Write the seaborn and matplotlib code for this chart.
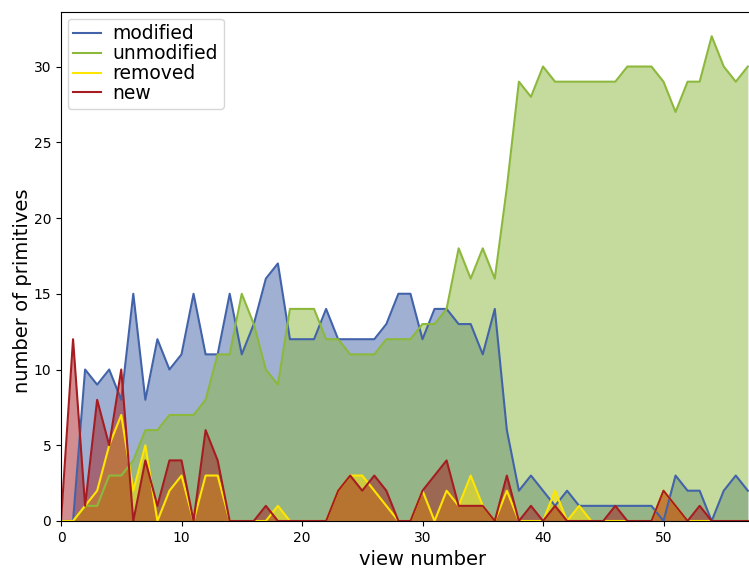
import numpy as np
import pandas as pd
import matplotlib
matplotlib.use("Agg")
import matplotlib.pyplot as plt
import seaborn as sns

views = list(range(58))
modified = [0, 0, 10, 9, 10, 8, 15, 8, 12, 10,
            11, 15, 11, 11, 15, 11, 13, 16, 17, 12,
            12, 12, 14, 12, 12, 12, 12, 13, 15, 15,
            12, 14, 14, 13, 13, 11, 14, 6, 2, 3,
            2, 1, 2, 1, 1, 1, 1, 1, 1, 1,
            0, 3, 2, 2, 0, 2, 3, 2]
unmodified = [0, 0, 1, 1, 3, 3, 4, 6, 6, 7,
              7, 7, 8, 11, 11, 15, 13, 10, 9, 14,
              14, 14, 12, 12, 11, 11, 11, 12, 12, 12,
              13, 13, 14, 18, 16, 18, 16, 22, 29, 28,
              30, 29, 29, 29, 29, 29, 29, 30, 30, 30,
              29, 27, 29, 29, 32, 30, 29, 30]
removed = [0, 0, 1, 2, 5, 7, 2, 5, 0, 2,
           3, 0, 3, 3, 0, 0, 0, 0, 1, 0,
           0, 0, 0, 2, 3, 3, 2, 1, 0, 0,
           2, 0, 2, 1, 3, 1, 0, 2, 0, 0,
           0, 2, 0, 1, 0, 0, 0, 0, 0, 0,
           2, 1, 0, 0, 0, 0, 0, 0]
new = [0, 12, 1, 8, 5, 10, 0, 4, 1, 4,
       4, 0, 6, 4, 0, 0, 0, 1, 0, 0,
       0, 0, 0, 2, 3, 2, 3, 2, 0, 0,
       2, 3, 4, 1, 1, 1, 0, 3, 0, 1,
       0, 1, 0, 0, 0, 0, 1, 0, 0, 0,
       2, 1, 0, 1, 0, 0, 0, 0]

series_names = ["modified", "unmodified", "removed", "new"]
series_values = [modified, unmodified, removed, new]
colors = ["#4263a9", "#8cb83c", "#ffe500", "#a51d21"]
x_ticks = [0, 10, 20, 30, 40, 50]
y_ticks = [0, 5, 10, 15, 20, 25, 30]

df = pd.DataFrame({
    "view number": views * 4,
    "number of primitives": modified + unmodified + removed + new,
    "kind": sum([[n] * len(views) for n in series_names], []),
})

W, H = 749, 569
fig = plt.figure(figsize=(W / 100, H / 100), dpi=100)
# axes run a little past the right edge of the canvas
x_max = 60
px_per_unit = 12.05
ax_left, ax_right = 61, 61 + x_max * px_per_unit
ax_top, ax_bottom = 12, 521
ax = fig.add_axes([ax_left / W, 1 - ax_bottom / H,
                   (ax_right - ax_left) / W, (ax_bottom - ax_top) / H])

sns.lineplot(data=df, x="view number", y="number of primitives", hue="kind",
             hue_order=series_names, palette=colors, linewidth=1.5, ax=ax)

for vals, c in zip(series_values, colors):
    ax.fill_between(views, vals, color=c, alpha=0.5, linewidth=0)

ax.set_xlim(0, x_max)
ax.set_ylim(0, 33.6)
ax.set_xticks(x_ticks)
ax.set_yticks(y_ticks)
ax.tick_params(labelsize=10)
ax.set_xlabel("view number", fontsize=14)
ax.set_ylabel("number of primitives", fontsize=14, labelpad=1)
ax.yaxis.label.set_y(0.452)

leg = ax.legend(loc="upper left", fontsize=13.5, handlelength=1.5,
                handletextpad=0.6, labelspacing=0.05, borderpad=0.3,
                borderaxespad=0.35)
leg.set_title(None)

fig.savefig("out.png", dpi=100)
